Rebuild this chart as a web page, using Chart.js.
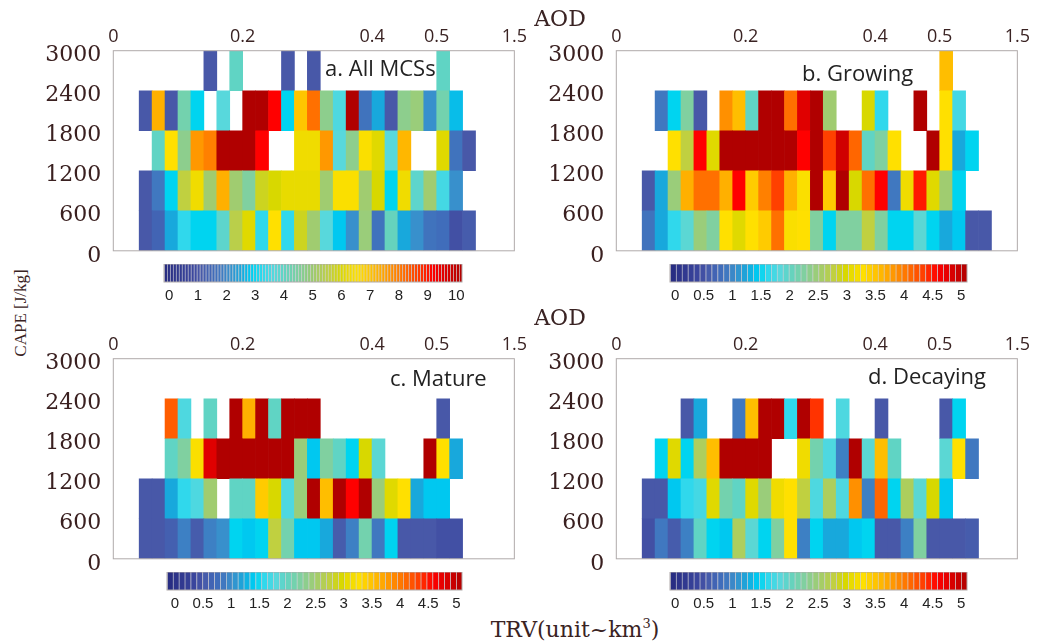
<!DOCTYPE html>
<html>
<head>
<meta charset="utf-8">
<script src="https://cdn.jsdelivr.net/npm/chart.js@4"></script>
<style>
  body { margin: 0; background: #fff; width: 1042px; height: 642px; position: relative; overflow: hidden; }
  canvas { position: absolute; }
  .t { position: absolute; white-space: nowrap; color: #3a2323; line-height: 1; }
  .serif { font-family: 'DejaVu Serif', serif; }
  .lab { font-family: 'Open Sans', sans-serif; font-size: 22px; color: #222; transform: translateY(-50%); }
</style>
</head>
<body>
<canvas id="pa" width="490" height="256" style="left:40px;top:20px"></canvas>
<canvas id="pb" width="490" height="256" style="left:543.4px;top:20px"></canvas>
<canvas id="pc" width="490" height="256" style="left:40px;top:327.6px"></canvas>
<canvas id="pd" width="490" height="256" style="left:543.4px;top:327.6px"></canvas>

<canvas id="ca" width="338" height="42" style="left:144px;top:264.3px"></canvas>
<canvas id="cb" width="337" height="42" style="left:650px;top:264.3px"></canvas>
<canvas id="cc" width="335" height="42" style="left:147px;top:572px"></canvas>
<canvas id="cd" width="337" height="42" style="left:650px;top:572px"></canvas>

<div class="t serif" style="left:560px;top:19px;font-size:22px;transform:translate(-50%,-50%)">AOD</div>
<div class="t serif" style="left:560px;top:318px;font-size:22px;transform:translate(-50%,-50%)">AOD</div>
<div class="t" style="left:20px;top:313px;font-family:'Liberation Serif',serif;font-size:17px;transform:translate(-50%,-50%) rotate(-90deg)">CAPE [J/kg]</div>
<div class="t serif" style="left:575px;top:629px;font-size:22px;transform:translate(-50%,-50%)">TRV(unit~km<sup style="font-size:13px;vertical-align:9px">3</sup>)</div>

<div class="t lab" style="left:325px;top:67px">a. All MCSs</div>
<div class="t lab" style="left:802px;top:72px">b. Growing</div>
<div class="t lab" style="left:390px;top:377px">c. Mature</div>
<div class="t lab" style="left:868px;top:375px">d. Decaying</div>

<script>
// AOD bins (31 columns), CAPE bins (5 rows)
const columns = Array.from({ length: 31 }, (_, i) => i);
const capeEdges = [0, 600, 1200, 1800, 2400, 3000];
const aodTickPos = [0, 10, 20, 25, 31];
const aodTickLabels = ['0', '0.2', '0.4', '0.5', '1.5'];
const cbTicksA = [0, 1, 2, 3, 4, 5, 6, 7, 8, 9, 10];
const cbTicksB = [0, 0.5, 1, 1.5, 2, 2.5, 3, 3.5, 4, 4.5, 5];

// a row starting at column `start`, padded with nulls
function row(start, vals) {
  const out = new Array(31).fill(null);
  vals.forEach((v, i) => { out[start + i] = v; });
  return out;
}
const _ = null;

// rows listed bottom (0-600) to top (2400-3000)
const allMCS = [
  row(2, [1.2, 1.5, 2.6, 3.3, 3.0, 3.0, 3.9, 5.4, 6.0, 3.3, 6.5, 3.3, 5.7, 5.0, 3.7, 2.9, 2.2, 4.9, 1.8, 4.1, 2.6, 2.2, 1.8, 1.7, 1.1, 1.3]),
  row(2, [1.2, 1.9, 3.0, 5.5, 6.2, 5.0, 7.2, 5.0, 4.5, 5.7, 5.9, 6.1, 6.1, 6.1, 5.0, 6.4, 6.4, 5.0, 5.9, 3.0, 6.2, 3.9, 5.0, 3.5, 2.2]),
  row(3, [4.0, 6.5, 4.7, 7.5, 7.8, 10, 10, 10, 9.0, _, _, 6.2, 6.2, 7.5, 3.7, 4.7, 6.4, 6.0, 3.7, 7.1, _, _, 6.0, 1.8, 1.2]),
  row(2, [1.2, 7.2, 1.2, 4.3, 3.0, _, 3.7, _, 10, 10, 9.0, 3.0, 6.9, 8.0, 4.7, 3.6, 10, 1.8, 2.6, 1.2, 4.7, 4.9, 2.2, 4.3, 2.8]),
  row(7, [1.2, _, 4.0, _, _, _, 1.2, _, 1.2, _, _, _, _, _, _, _, _, _, 4.0])
];
const growing = [
  row(2, [0.9, 1.3, 1.65, 1.9, 2.45, 2.25, 3.25, 3.0, 3.25, 3.4, 4.0, 3.2, 3.25, 2.25, 1.5, 2.25, 2.25, 2.75, 2.25, 1.5, 1.5, 1.9, 1.5, 1.3, 1.45, 0.6, 0.6]),
  row(2, [0.6, 1.3, 2.45, 3.6, 4.0, 4.0, 3.6, 4.5, 3.4, 3.9, 4.25, 3.6, 3.2, 5, 3.4, 5, 2.95, 4.0, 4.5, 0.95, 3.1, 4.4, 3.0, 2.5, 1.5]),
  row(4, [3.25, 2.75, 4.5, 3.0, 5, 5, 5, 5, 5, 5, 4.5, 5, 4.25, 4.8, 4.05, 2.0, 2.25, 3.25, _, _, 5, 3.25, 1.3, 1.5]),
  row(3, [0.95, 1.5, 2.25, 0.6, _, 3.8, 3.5, 2.0, 5, 5, 4.0, 4.7, 5, 2.5, _, _, 2.95, 1.65, _, _, 5, _, 3.25, 1.75]),
  row(25, [3.5])
];
const mature = [
  row(2, [0.6, 0.6, 0.7, 1.0, 0.65, 1.0, 1.1, 1.5, 1.45, 1.5, 2.75, 2.15, 1.45, 1.45, 1.3, 0.65, 1.0, 2.15, 0.95, 1.5, 0.6, 0.6, 0.6, 0.55, 0.55]),
  row(2, [0.6, 0.6, 1.3, 1.65, 1.8, 2.5, _, 2.0, 2.0, 3.4, 2.95, 1.8, 2.45, 5, 3.5, 5, 4.5, 5, 2.45, 3.0, 3.25, 1.3, 1.45, 1.45]),
  row(4, [2.0, 2.25, 3.2, 4.7, 5, 5, 5, 5, 5, 5, 2.45, 1.45, 2.25, 2.0, 1.5, 2.95, 1.9, _, _, _, 5, 3.25, 1.3]),
  row(4, [4.1, 1.8, _, 2.0, _, 5, 3.6, 5, 2.0, 5, 5, 5, _, _, _, _, _, _, _, _, _, 0.6]),
  row(0, [])
];
const decaying = [
  row(2, [0.55, 0.95, 0.65, 1.0, 2.0, 1.5, 1.45, 2.6, 1.9, 1.5, 2.25, 3.25, 1.0, 1.5, 1.3, 1.3, 1.45, 1.5, 0.6, 0.6, 1.0, 2.25, 0.6, 0.6, 0.6, 0.65]),
  row(2, [0.6, 0.6, 1.45, 1.65, 1.75, 3.0, 2.15, 2.0, 3.0, 2.45, 3.1, 3.25, 2.75, 1.8, 2.6, 1.8, 3.8, 1.0, 4.05, 1.5, 2.6, 1.9, 2.95, 1.45]),
  row(3, [1.5, 3.0, 1.5, 2.6, 3.5, 5, 5, 5, 5, _, _, 3.1, 2.15, 1.8, 1.0, 5, 1.9, 3.5, 2.0, _, _, _, 1.9, 3.25, 0.95]),
  row(5, [0.6, 1.3, _, _, 0.95, 3.5, 5, 5, 1.65, 5, 4.3, _, 1.8, _, _, 0.6, _, _, _, _, 0.6, 1.5]),
  row(0, [])
];

// jet-like colour map used by the figure
const stops = [
  [0.00, '#262a80'], [0.10, '#3c48a0'], [0.12, '#4858a8'], [0.16, '#4068b8'],
  [0.19, '#4078c0'], [0.22, '#3890cc'], [0.26, '#18a8dc'], [0.29, '#00c8f0'],
  [0.30, '#00d4f0'], [0.33, '#30d8ec'], [0.37, '#58d8dc'], [0.40, '#60d4c4'],
  [0.45, '#80d0a0'], [0.50, '#a0cc70'], [0.55, '#c0d040'], [0.59, '#d8d800'],
  [0.62, '#f0dc00'], [0.65, '#ffe000'], [0.72, '#ffb000'], [0.80, '#ff7000'],
  [0.85, '#ff4000'], [0.90, '#ff0000'], [0.95, '#d80000'], [1.00, '#b00000']
];
function hex(h) { return [1, 3, 5].map(i => parseInt(h.slice(i, i + 2), 16)); }
function colormap(t) {
  t = Math.max(0, Math.min(1, t));
  for (let i = 1; i < stops.length; i++) {
    if (t <= stops[i][0]) {
      const [t0, c0] = stops[i - 1], [t1, c1] = stops[i];
      const f = (t - t0) / (t1 - t0), a = hex(c0), b = hex(c1);
      return 'rgb(' + a.map((v, k) => Math.round(v + (b[k] - v) * f)).join(',') + ')';
    }
  }
  return stops[stops.length - 1][1];
}

const boxBorder = {
  id: 'boxBorder',
  afterDatasetsDraw(chart) {
    const { ctx, chartArea: a } = chart;
    ctx.save();
    ctx.strokeStyle = '#b0aaaa';
    ctx.lineWidth = 1;
    ctx.strokeRect(a.left, a.top, a.right - a.left, a.bottom - a.top);
    ctx.restore();
  }
};

function makePanel(id, grid, vmax) {
  const datasets = grid.map((vals, r) => ({
    data: vals.map(v => v == null ? null : [capeEdges[r], capeEdges[r + 1]]),
    backgroundColor: vals.map(v => v == null ? 'rgba(0,0,0,0)' : colormap(v / vmax)),
    borderWidth: 0,
    barPercentage: 1,
    categoryPercentage: 1
  }));
  new Chart(document.getElementById(id), {
    type: 'bar',
    data: { labels: columns, datasets },
    options: {
      responsive: false,
      animation: false,
      layout: { padding: { left: 0, right: 13.5, top: 0, bottom: 24 } },
      plugins: { legend: { display: false }, tooltip: { enabled: false } },
      scales: {
        x: { type: 'category', stacked: true, display: false },
        x2: {
          type: 'linear', position: 'top', min: 0, max: 31, offset: false,
          grid: { display: false, drawTicks: false }, border: { display: false },
          afterBuildTicks: s => { s.ticks = aodTickPos.map(v => ({ value: v })); },
          afterFit: s => { s.height = 30.7; },
          ticks: {
            padding: 3, autoSkip: false, maxRotation: 0,
            font: { family: 'Open Sans', size: 18 }, color: '#3a2323',
            callback: (v, i) => aodTickLabels[i]
          }
        },
        y: {
          min: 0, max: 3000,
          grid: { display: false, drawTicks: false }, border: { display: false },
          afterBuildTicks: s => { s.ticks = capeEdges.map(v => ({ value: v })); },
          afterFit: s => { s.width = 73.3; },
          ticks: {
            padding: 12, labelOffset: 5,
            font: { family: 'DejaVu Serif', size: 22 }, color: '#3a2020',
            callback: v => String(v)
          }
        }
      }
    },
    plugins: [boxBorder]
  });
}

function makeColorbar(id, nSeg, ticks, min, max) {
  const segs = Array.from({ length: nSeg }, (_, i) => i);
  new Chart(document.getElementById(id), {
    type: 'bar',
    data: {
      labels: segs,
      datasets: [{
        data: segs.map(() => 1),
        backgroundColor: segs.map(i => colormap((i + 0.5) / nSeg)),
        borderColor: 'rgba(0,0,30,0.18)',
        borderWidth: { left: 1, right: 0, top: 0, bottom: 0 },
        borderSkipped: false,
        barPercentage: 1,
        categoryPercentage: 1
      }]
    },
    options: {
      responsive: false,
      animation: false,
      layout: { padding: { left: 20, right: 20, top: 0, bottom: 0 } },
      plugins: { legend: { display: false }, tooltip: { enabled: false } },
      scales: {
        x: { type: 'category', display: false },
        y: { display: false, min: 0, max: 1 },
        x2: {
          type: 'linear', position: 'bottom', min, max, offset: false,
          grid: { display: false, drawTicks: false }, border: { display: false },
          afterBuildTicks: s => { s.ticks = ticks.map(v => ({ value: v })); },
          afterFit: s => { s.height = 24; },
          ticks: {
            padding: 5, autoSkip: false, maxRotation: 0,
            font: { family: 'Liberation Sans', size: 15 }, color: '#222',
            callback: v => String(v)
          }
        }
      }
    },
    plugins: [boxBorder]
  });
}

makePanel('pa', allMCS, 10);
makePanel('pb', growing, 5);
makePanel('pc', mature, 5);
makePanel('pd', decaying, 5);

makeColorbar('ca', 100, cbTicksA, -0.18, 10.2);
makeColorbar('cb', 50, cbTicksB, -0.09, 5.1);
makeColorbar('cc', 50, cbTicksB, -0.14, 5.1);
makeColorbar('cd', 50, cbTicksB, -0.09, 5.1);
</script>
</body>
</html>
